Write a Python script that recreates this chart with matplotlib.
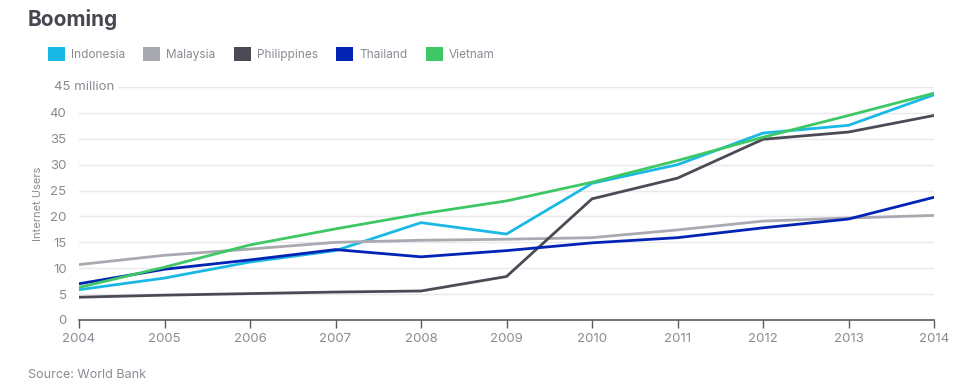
import matplotlib.pyplot as plt
from matplotlib.patches import Patch

plt.rcParams['font.family'] = ['Inter', 'DejaVu Sans']

years = [2004, 2005, 2006, 2007, 2008, 2009, 2010, 2011, 2012, 2013, 2014]

# internet users, millions
indonesia = [5.85, 8.1, 11.2, 13.4, 18.8, 16.6, 26.4, 30.0, 36.1, 37.6, 43.5]
malaysia = [10.7, 12.5, 13.7, 15.0, 15.4, 15.6, 15.9, 17.4, 19.1, 19.7, 20.2]
philippines = [4.4, 4.8, 5.1, 5.4, 5.6, 8.4, 23.4, 27.4, 34.9, 36.3, 39.5]
thailand = [7.0, 9.8, 11.6, 13.6, 12.2, 13.4, 14.9, 15.9, 17.8, 19.5, 23.7]
vietnam = [6.3, 10.2, 14.5, 17.6, 20.5, 23.0, 26.6, 30.8, 35.3, 39.5, 43.8]

names = ['Indonesia', 'Malaysia', 'Philippines', 'Thailand', 'Vietnam']
series = [indonesia, malaysia, philippines, thailand, vietnam]
colors = ['#1ab8e4', '#a9a9b1', '#4b4b56', '#0323b4', '#3ec865']

yticks = [0, 5, 10, 15, 20, 25, 30, 35, 40, 45]
ylabels = ['0', '5', '10', '15', '20', '25', '30', '35', '40', '']

grey = '#8a8a93'

fig = plt.figure(figsize=(9.69, 3.9), dpi=100)
fig.set_facecolor('white')
ax = fig.add_axes([79 / 969, 1 - 320 / 390, (934 - 79) / 969, (320 - 87) / 390])

# grid lines (top one starts after the "45 million" label)
for y in yticks[1:]:
    xmin = 0.046 if y == 45 else 0
    ax.axhline(y, xmin=xmin, color='#e9e9ec', lw=1, zorder=0)

for name, vals, c in zip(names, series, colors):
    ax.plot(years, vals, color=c, lw=2, label=name, solid_joinstyle='miter')

ax.set_xlim(2004, 2014)
ax.set_ylim(0, 45)
ax.set_xticks(years)
ax.set_yticks(yticks)
ax.set_yticklabels(ylabels)

for s in ['top', 'right', 'left']:
    ax.spines[s].set_visible(False)
ax.spines['bottom'].set_color('#5a5a62')
ax.spines['bottom'].set_linewidth(1.2)
ax.spines['bottom'].set_clip_on(False)

ax.tick_params(axis='x', length=6, width=1, color='#5a5a62', labelsize=9.5,
               labelcolor=grey, pad=3)
ax.tick_params(axis='y', length=0, labelsize=9.5, labelcolor=grey, pad=9)

fig.text(54 / 969, 1 - 87 / 390, '45 million', fontsize=9.5, color=grey,
         ha='left', va='center')

ax.set_ylabel('Internet Users', fontsize=8, color=grey, labelpad=5)

fig.text(28 / 969, 1 - 19 / 390, 'Booming', fontsize=15, fontweight='bold',
         color='#474752', ha='left', va='center')

handles = [Patch(facecolor=c, edgecolor='none') for c in colors]
fig.legend(handles, names, loc='center left', bbox_to_anchor=(43 / 969, 1 - 54 / 390),
           ncol=5, frameon=False, fontsize=8.5, labelcolor=grey,
           handlelength=1.45, handleheight=1.45, handletextpad=0.5,
           columnspacing=1.55, borderaxespad=0)

fig.text(28 / 969, 1 - 375 / 390, 'Source: World Bank', fontsize=9, color=grey,
         ha='left', va='center')

fig.savefig('out.png', dpi=100, facecolor='white')
